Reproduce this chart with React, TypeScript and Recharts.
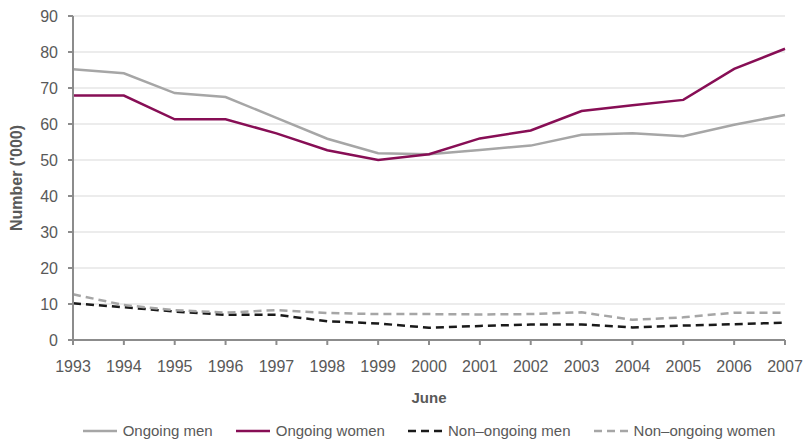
import { LineChart, Line, XAxis, YAxis, CartesianGrid, Legend } from 'recharts'

const years = ['1993', '1994', '1995', '1996', '1997', '1998', '1999', '2000', '2001', '2002', '2003', '2004', '2005', '2006', '2007']
const ongoingMen = [75.2, 74.1, 68.6, 67.5, 61.7, 55.9, 51.9, 51.6, 52.8, 54.0, 57.0, 57.4, 56.6, 59.8, 62.5]
const ongoingWomen = [67.9, 67.9, 61.3, 61.3, 57.4, 52.7, 50.0, 51.6, 56.0, 58.2, 63.6, 65.2, 66.7, 75.3, 80.9]
const nonOngoingMen = [10.2, 9.1, 7.9, 7.0, 7.0, 5.2, 4.6, 3.4, 3.9, 4.3, 4.3, 3.5, 4.0, 4.4, 4.8]
const nonOngoingWomen = [12.7, 9.7, 8.3, 7.6, 8.3, 7.5, 7.2, 7.2, 7.1, 7.2, 7.7, 5.6, 6.3, 7.6, 7.6]
const yTicks = [0, 10, 20, 30, 40, 50, 60, 70, 80, 90]

const rows = years.map((year, i) => ({
  year,
  om: ongoingMen[i],
  ow: ongoingWomen[i],
  nm: nonOngoingMen[i],
  nw: nonOngoingWomen[i],
}))

const series = [
  { key: 'om', name: 'Ongoing men', color: '#a6a6a6', dash: undefined },
  { key: 'ow', name: 'Ongoing women', color: '#870e55', dash: undefined },
  { key: 'nm', name: 'Non\u2013ongoing men', color: '#1a1a1a', dash: '8 5' },
  { key: 'nw', name: 'Non\u2013ongoing women', color: '#a6a6a6', dash: '8 5' },
]

const AXIS = '#8c8c8c'
const TEXT = '#595959'

function LegendContent() {
  return (
    <div style={{ display: 'flex', justifyContent: 'center', alignItems: 'center', height: 24 }}>
      {series.map((s, i) => (
        <div key={s.key} style={{ display: 'flex', alignItems: 'center', marginLeft: i === 0 ? 0 : 23 }}>
          <svg width={34} height={6} style={{ display: 'block' }}>
            <line x1={0} y1={3} x2={34} y2={3} stroke={s.color} strokeWidth={2.5} strokeDasharray={s.dash} />
          </svg>
          <span style={{ marginLeft: 6, fontSize: 15, color: TEXT, lineHeight: '24px' }}>{s.name}</span>
        </div>
      ))}
    </div>
  )
}

export default function App() {
  return (
    <div style={{ position: 'absolute', left: 0, top: 0, fontFamily: '"Liberation Sans", Arial, sans-serif' }}>
      <LineChart width={805} height={443} data={rows} margin={{ top: 16, right: 20, bottom: 0, left: 0 }}>
        <CartesianGrid vertical={false} stroke="#d9d9d9" />
        <XAxis
          dataKey="year"
          height={79}
          interval={0}
          tickSize={5}
          tickMargin={16}
          tick={{ fontSize: 16, fill: TEXT }}
          axisLine={{ stroke: AXIS, strokeWidth: 2 }}
          tickLine={{ stroke: AXIS, strokeWidth: 2 }}
          label={{ value: 'June', position: 'insideBottom', offset: 16, fontSize: 15, fontWeight: 'bold', fill: TEXT }}
        />
        <YAxis
          width={73}
          domain={[0, 90]}
          ticks={yTicks}
          interval={0}
          tickSize={5}
          tickMargin={10}
          tick={{ fontSize: 16, fill: TEXT }}
          axisLine={{ stroke: AXIS, strokeWidth: 2 }}
          tickLine={{ stroke: AXIS, strokeWidth: 2 }}
          label={{
            value: "Number ('000)",
            angle: -90,
            position: 'insideLeft',
            offset: 16,
            fontSize: 16,
            fontWeight: 'bold',
            fill: TEXT,
            style: { textAnchor: 'middle' },
          }}
        />
        <Legend content={LegendContent} wrapperStyle={{ left: 53, width: 752, bottom: 0 }} />
        {series.map((s) => (
          <Line
            key={s.key}
            type="linear"
            dataKey={s.key}
            name={s.name}
            stroke={s.color}
            strokeWidth={2.5}
            strokeDasharray={s.dash}
            dot={false}
            activeDot={false}
            isAnimationActive={false}
          />
        ))}
      </LineChart>
    </div>
  )
}
